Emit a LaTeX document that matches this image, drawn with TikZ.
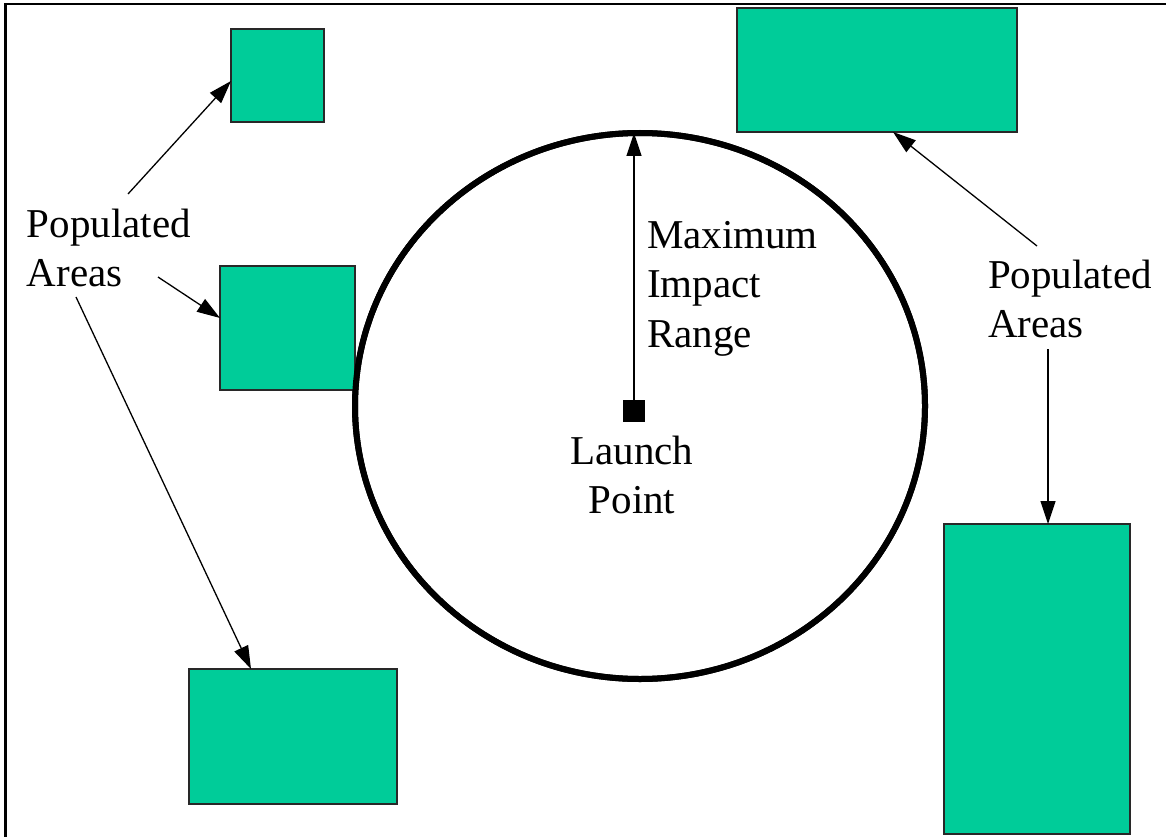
\documentclass[tikz,border=0pt]{standalone}
\usepackage{fontspec}
\setmainfont{Liberation Serif}
\usetikzlibrary{arrows.meta,shapes.geometric,calc}
\definecolor{zone}{RGB}{0,204,153}
\definecolor{zoneedge}{RGB}{40,40,40}
\tikzset{
  area/.style={draw=zoneedge, line width=1.1pt, fill=zone, inner sep=0pt, outer sep=0pt},
  arr/.style={line width=1.3pt, -{Triangle[length=23pt,width=15pt]}},
  lbl/.style={inner sep=0pt, outer sep=0pt, font=\fontsize{41}{49.5}\selectfont},
}
\begin{document}
\begin{tikzpicture}[x=1pt,y=-1pt]
  \clip (0,0) rectangle (1166,837);
  \fill[white] (0,0) rectangle (1166,837);
  % frame (only the top and left edges fall inside the page)
  \draw[line width=2.5pt] (5.3,4) rectangle (1200,900);

  % impact range boundary around the launch point
  \node[ellipse, draw, line width=6pt, minimum width=570pt, minimum height=546pt,
        inner sep=0pt, outer sep=0pt] (range) at (640,406) {};
  \node[fill=black, minimum size=22pt, inner sep=0pt, outer sep=0pt] (lp) at (634,411) {};
  \coordinate (rtop) at ($(range.north)+(-6,0)$);
  \draw[arr] (lp.north) -- (rtop);

  % populated areas
  \node[area, minimum width=93pt,  minimum height=93pt]  (r1) at (277.5,75.5) {};
  \node[area, minimum width=135pt, minimum height=124pt] (r2) at (287.5,328) {};
  \node[area, minimum width=208pt, minimum height=135pt] (r3) at (293,736.5) {};
  \node[area, minimum width=280pt, minimum height=124pt] (r4) at (877,70) {};
  \node[area, minimum width=186pt, minimum height=310pt] (r5) at (1037,679) {};
  % redraw the circle edge over the touching square
  \draw[line width=6pt] (range.center) ellipse [x radius=285pt, y radius=273pt];

  % labels
  \node[lbl, anchor=base west] (pl) at (27,237)
    {\begin{tabular}[t]{@{}l@{}}Populated\\Areas\end{tabular}};
  \node[lbl, anchor=base west] (pr) at (988,288)
    {\begin{tabular}[t]{@{}l@{}}Populated\\Areas\end{tabular}};
  \node[lbl, anchor=base west] (mir) at (647,248)
    {\begin{tabular}[t]{@{}l@{}}Maximum\\Impact\\Range\end{tabular}};
  \node[lbl, anchor=base] (lpt) at (632,464)
    {\begin{tabular}[t]{@{}c@{}}Launch\\Point\end{tabular}};

  % arrow tails near the labels
  \coordinate (s1) at (128,194);
  \coordinate (s2) at (158,277);
  \coordinate (s3) at (76,297);
  \coordinate (s4) at (1037,246);
  \coordinate (s5) at (1048,349);

  \draw[arr] (s1) -- ($(r1.west)+(0,5.5)$);
  \draw[arr] (s2) -- ($(r2.west)+(0,-10)$);
  \draw[arr] (s3) -- ($(r3.north)+(-42,0)$);
  \draw[arr] (s4) -- ($(r4.south)+(16,0)$);
  \draw[arr] (s5) -- ($(r5.north)+(11,0)$);
\end{tikzpicture}
\end{document}
